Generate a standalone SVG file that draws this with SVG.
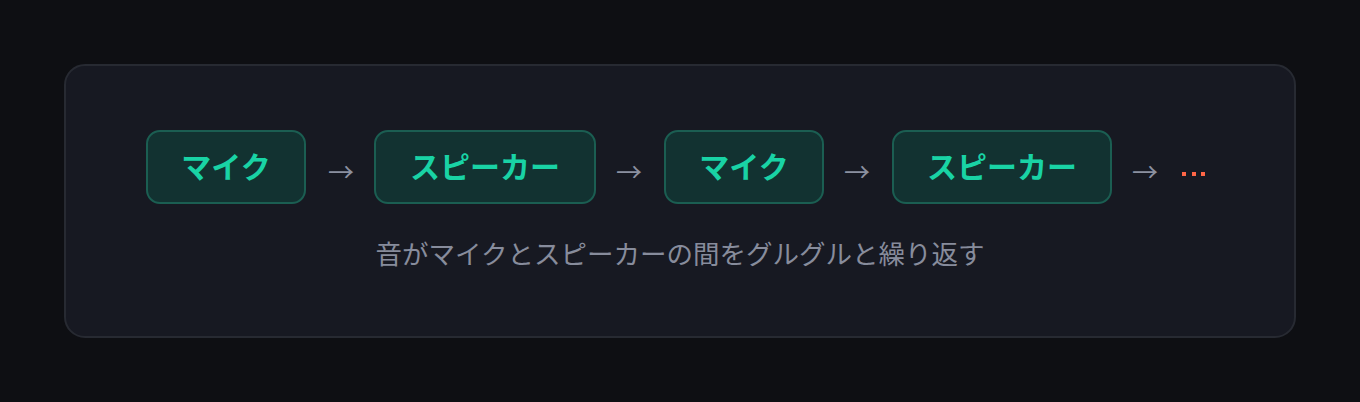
<svg xmlns="http://www.w3.org/2000/svg" width="1360" height="402" viewBox="0 0 1360 402">
<style>
.node rect{fill:#123231;stroke:#1b5e52;stroke-width:2}
.node text{font-family:"Noto Sans CJK JP","Noto Sans",sans-serif;font-weight:700;font-size:30px;fill:#19d3a5;text-anchor:middle;dominant-baseline:central}
.arr{font-family:"Noto Sans CJK JP","Noto Sans",sans-serif;font-size:26px;fill:#8b90a0;text-anchor:middle;dominant-baseline:central}
.cap{font-family:"Noto Sans CJK JP","Noto Sans",sans-serif;font-size:26.5px;fill:#878c9c;text-anchor:middle;dominant-baseline:central}
</style>
<rect width="1360" height="402" fill="#0e0f13"/>
<rect x="65" y="65" width="1230" height="272" rx="20" fill="#171922" stroke="#272a32" stroke-width="2"/>
<g id="n1" class="node"><rect x="147" y="131" width="158" height="72" rx="13"/><text x="226" y="165">マイク</text></g>
<g id="n2" class="node"><rect x="375" y="131" width="220" height="72" rx="13"/><text x="485" y="165">スピーカー</text></g>
<g id="n3" class="node"><rect x="665" y="131" width="158" height="72" rx="13"/><text x="744" y="165">マイク</text></g>
<g id="n4" class="node"><rect x="893" y="131" width="218" height="72" rx="13"/><text x="1002" y="165">スピーカー</text></g>
<g id="connectors">
<text class="arr" x="341" y="170">→</text>
<text class="arr" x="629" y="170">→</text>
<text class="arr" x="857" y="170">→</text>
<text class="arr" x="1145" y="170">→</text>
</g>
<g id="more"><rect x="1182" y="172" width="4" height="4" fill="#ff6647"/><rect x="1192" y="172" width="4" height="4" fill="#ff6647"/><rect x="1201" y="172" width="4" height="4" fill="#ff6647"/></g>
<text class="cap" x="680" y="252">音がマイクとスピーカーの間をグルグルと繰り返す</text>
</svg>
